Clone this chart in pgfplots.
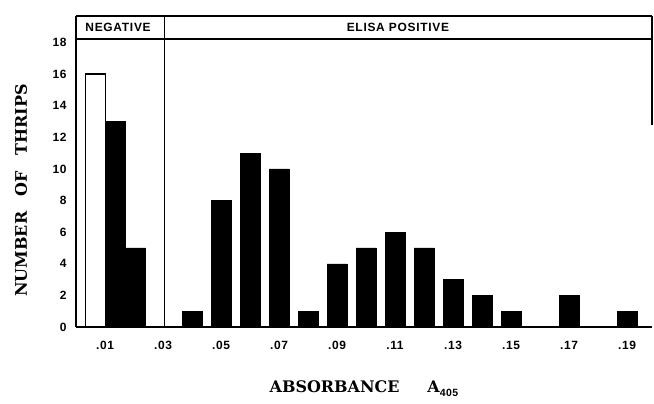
\documentclass[border=0pt]{standalone}
\usepackage{pgfplots}
\pgfplotsset{compat=1.18}
\usepackage{fontspec}
\setmainfont{Liberation Sans}
\newfontfamily\labfont{DejaVu Serif}
\newfontfamily\hdrfont[LetterSpace=6]{Liberation Sans}
\newfontfamily\tickfont[LetterSpace=5]{Liberation Sans}
\begin{document}
\begin{tikzpicture}
\useasboundingbox (-76bp,-77bp) rectangle (578bp,327bp);
\begin{axis}[
  at={(0,0)}, anchor=south west,
  scale only axis, width=576bp, height=311bp,
  xmin=0, xmax=19.86, ymin=0, ymax=19.68,
  axis x line=bottom, axis y line=left,
  axis line style={-, line width=1.6bp},
  major tick length=0pt,
  xtick={1,3,5,7,9,11,13,15,17,19},
  xticklabels={.01,.03,.05,.07,.09,.11,.13,.15,.17,.19},
  ytick={0,2,4,6,8,10,12,14,16,18},
  /pgf/number format/assume math mode=true,
  ticklabel style={font=\tickfont\bfseries\fontsize{12}{14}\selectfont},
  xticklabel style={yshift=-11bp},
  yticklabel style={xshift=-6bp},
  xlabel={\labfont\bfseries ABSORBANCE\hspace{28bp}A\raisebox{-4bp}{\tickfont\bfseries\fontsize{10.5}{12}\selectfont 405}},
  xlabel style={at={(axis description cs:0.5,-0.199)}, anchor=center, font=\fontsize{16}{18}\selectfont},
  ylabel={\labfont\bfseries NUMBER\hspace{10bp} OF\hspace{10bp} THRIPS},
  ylabel style={at={(axis description cs:-0.0955,0.439)}, anchor=center, font=\fontsize{16}{18}\selectfont},
  clip=false,
]
% negative region
\addplot[ybar, bar width=0.69, bar shift=0pt, fill=white, draw=black, line width=1.4bp]
  coordinates {(0.67,16)};
\addplot[ybar, bar width=0.69, bar shift=0pt, fill=black, draw=black]
  coordinates {(1.36,13) (2.05,5)};
% ELISA positive
\addplot[ybar, bar width=0.69, bar shift=0pt, fill=black, draw=black]
  coordinates {(4,1) (5,8) (6,11) (7,10) (8,1) (9,4) (10,5) (11,6) (12,5) (13,3) (14,2) (15,1) (17,2) (19,1)};
% header box and divider
\draw[line width=1.6bp] (axis cs:0,19.68) -- (axis cs:19.86,19.68);
\draw[line width=1.8bp] (axis cs:0,18.2) -- (axis cs:19.86,18.2);
\draw[line width=1.3bp] (axis cs:3.05,0) -- (axis cs:3.05,19.68);
\draw[line width=1.2bp] (axis cs:19.86,19.68) -- (axis cs:19.86,12.8);
\node[font=\hdrfont\bfseries\fontsize{12}{14}\selectfont] at (axis cs:1.45,18.96) {NEGATIVE};
\node[font=\hdrfont\bfseries\fontsize{12}{14}\selectfont] at (axis cs:11.1,18.96) {ELISA POSITIVE};
\end{axis}
\end{tikzpicture}
\end{document}
